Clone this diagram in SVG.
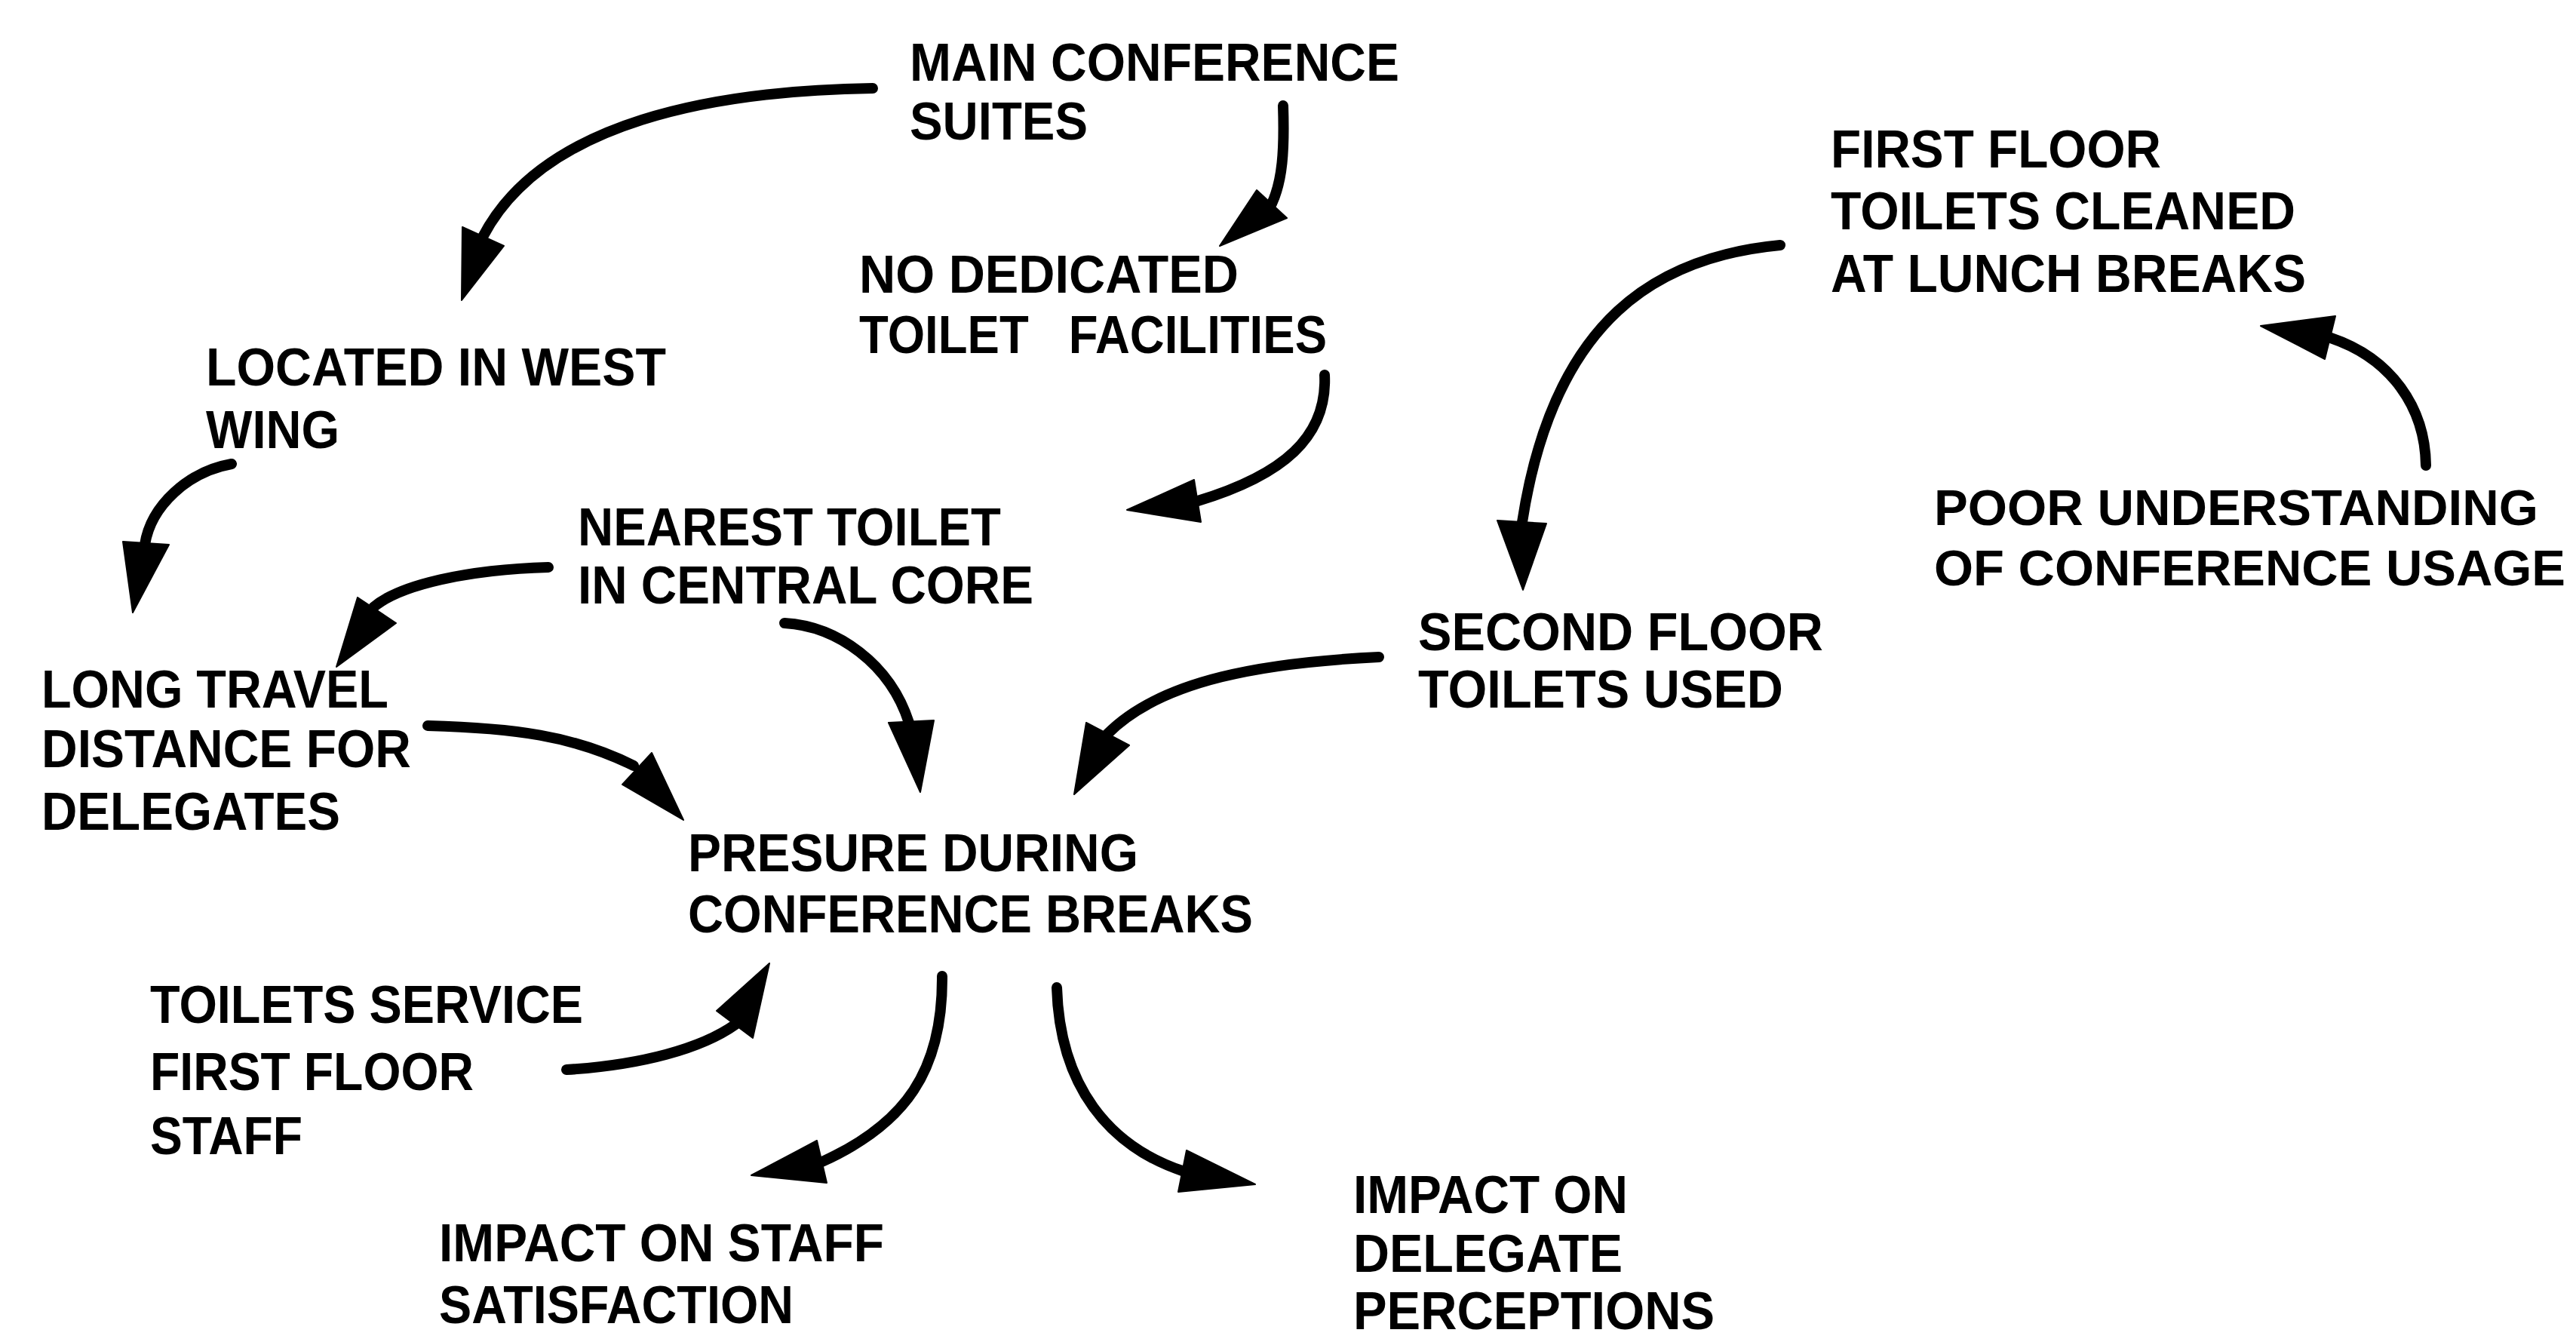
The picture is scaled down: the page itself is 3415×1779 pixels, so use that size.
<svg xmlns="http://www.w3.org/2000/svg" width="3415" height="1779" viewBox="0 0 3415 1779">
  <style>
    .lbl { font-family: "Liberation Sans", Arial, sans-serif; font-weight: bold; font-size: 70px; fill: #000; }
    .lbl.tight { font-size: 67px; }
    .link { fill: none; stroke: #000; stroke-width: 14; stroke-linecap: round; }
    .head { fill: #000; stroke: #000; stroke-width: 2; stroke-linejoin: round; }
  </style>
  <rect width="3415" height="1779" fill="#fff"/>

  <!-- connectors: curved strokes with drawn triangular heads -->
  <g id="connectors">
    <!-- main conference suites -> located in west wing -->
    <path class="link" d="M1157,117 C950,120 720,160 640,314"/>
    <polygon class="head" points="613,301 668,326 612,398"/>
    <!-- main conference suites -> no dedicated toilet facilities -->
    <path class="link" d="M1701,140 C1703,200 1700,240 1686,270"/>
    <polygon class="head" points="1666,252 1706,289 1617,326"/>
    <!-- no dedicated toilet facilities -> nearest toilet -->
    <path class="link" d="M1756,497 C1760,580 1700,630 1588,664"/>
    <polygon class="head" points="1583,636 1592,692 1494,676"/>
    <!-- located in west wing -> long travel distance -->
    <path class="link" d="M307,615 C250,625 200,670 192,722"/>
    <polygon class="head" points="163,718 224,722 176,812"/>
    <!-- nearest toilet -> long travel distance -->
    <path class="link" d="M727,752 C620,755 530,775 495,805"/>
    <polygon class="head" points="474,792 525,826 446,884"/>
    <!-- nearest toilet -> pressure during breaks -->
    <path class="link" d="M1040,826 C1110,830 1180,880 1205,958"/>
    <polygon class="head" points="1178,958 1238,955 1220,1050"/>
    <!-- long travel distance -> pressure during breaks -->
    <path class="link" d="M567,962 C680,965 760,975 840,1015"/>
    <polygon class="head" points="864,998 825,1040 906,1087"/>
    <!-- second floor toilets used -> pressure during breaks -->
    <path class="link" d="M1828,871 C1680,878 1540,900 1468,973"/>
    <polygon class="head" points="1440,958 1497,988 1424,1053"/>
    <!-- first floor toilets cleaned -> second floor toilets used -->
    <path class="link" d="M2360,325 C2200,340 2060,420 2018,692"/>
    <polygon class="head" points="1985,690 2050,694 2019,782"/>
    <!-- poor understanding -> first floor toilets cleaned -->
    <path class="link" d="M3216,617 C3215,540 3170,475 3090,448"/>
    <polygon class="head" points="3096,419 3082,476 2997,432"/>
    <!-- toilets service first floor staff -> pressure during breaks -->
    <path class="link" d="M751,1418 C850,1412 930,1390 975,1358"/>
    <polygon class="head" points="950,1340 998,1376 1020,1277"/>
    <!-- pressure during breaks -> impact on staff satisfaction -->
    <path class="link" d="M1249,1294 C1250,1420 1200,1490 1090,1540"/>
    <polygon class="head" points="1083,1512 1096,1568 996,1558"/>
    <!-- pressure during breaks -> impact on delegate perceptions -->
    <path class="link" d="M1401,1309 C1405,1440 1470,1520 1570,1553"/>
    <polygon class="head" points="1573,1525 1562,1580 1664,1570"/>
  </g>

  <g id="main-conference-suites">
    <text class="lbl" x="1206" y="107" textLength="649" lengthAdjust="spacingAndGlyphs">MAIN CONFERENCE</text>
    <text class="lbl" x="1206" y="185" textLength="236" lengthAdjust="spacingAndGlyphs">SUITES</text>
  </g>
  <g id="no-dedicated-toilets">
    <text class="lbl" x="1139" y="388" textLength="503" lengthAdjust="spacingAndGlyphs">NO DEDICATED</text>
    <text class="lbl" x="1139" y="468" textLength="620" lengthAdjust="spacingAndGlyphs" xml:space="preserve">TOILET   FACILITIES</text>
  </g>
  <g id="located-west-wing">
    <text class="lbl" x="273" y="511" textLength="610" lengthAdjust="spacingAndGlyphs">LOCATED IN WEST</text>
    <text class="lbl" x="273" y="594" textLength="177" lengthAdjust="spacingAndGlyphs">WING</text>
  </g>
  <g id="nearest-toilet">
    <text class="lbl" x="766" y="723" textLength="561" lengthAdjust="spacingAndGlyphs">NEAREST TOILET</text>
    <text class="lbl" x="766" y="800" textLength="604" lengthAdjust="spacingAndGlyphs">IN CENTRAL CORE</text>
  </g>
  <g id="long-travel-distance">
    <text class="lbl" x="55" y="938" textLength="460" lengthAdjust="spacingAndGlyphs">LONG TRAVEL</text>
    <text class="lbl" x="55" y="1017" textLength="490" lengthAdjust="spacingAndGlyphs">DISTANCE FOR</text>
    <text class="lbl" x="55" y="1100" textLength="396" lengthAdjust="spacingAndGlyphs">DELEGATES</text>
  </g>
  <g id="pressure-during-breaks">
    <text class="lbl" x="912" y="1155" textLength="597" lengthAdjust="spacingAndGlyphs">PRESURE DURING</text>
    <text class="lbl" x="912" y="1236" textLength="749" lengthAdjust="spacingAndGlyphs">CONFERENCE BREAKS</text>
  </g>
  <g id="toilets-service-staff">
    <text class="lbl" x="199" y="1356" textLength="574" lengthAdjust="spacingAndGlyphs">TOILETS SERVICE</text>
    <text class="lbl" x="199" y="1445" textLength="429" lengthAdjust="spacingAndGlyphs">FIRST FLOOR</text>
    <text class="lbl" x="199" y="1530" textLength="202" lengthAdjust="spacingAndGlyphs">STAFF</text>
  </g>
  <g id="impact-staff-satisfaction">
    <text class="lbl" x="582" y="1672" textLength="590" lengthAdjust="spacingAndGlyphs">IMPACT ON STAFF</text>
    <text class="lbl" x="582" y="1754" textLength="470" lengthAdjust="spacingAndGlyphs">SATISFACTION</text>
  </g>
  <g id="impact-delegate-perceptions">
    <text class="lbl" x="1794" y="1608" textLength="364" lengthAdjust="spacingAndGlyphs">IMPACT ON</text>
    <text class="lbl" x="1794" y="1686" textLength="357" lengthAdjust="spacingAndGlyphs">DELEGATE</text>
    <text class="lbl" x="1794" y="1762" textLength="479" lengthAdjust="spacingAndGlyphs">PERCEPTIONS</text>
  </g>
  <g id="first-floor-cleaned">
    <text class="lbl" x="2427" y="222" textLength="438" lengthAdjust="spacingAndGlyphs">FIRST FLOOR</text>
    <text class="lbl" x="2427" y="304" textLength="616" lengthAdjust="spacingAndGlyphs">TOILETS CLEANED</text>
    <text class="lbl" x="2427" y="387" textLength="630" lengthAdjust="spacingAndGlyphs">AT LUNCH BREAKS</text>
  </g>
  <g id="second-floor-used">
    <text class="lbl" x="1880" y="862" textLength="537" lengthAdjust="spacingAndGlyphs">SECOND FLOOR</text>
    <text class="lbl" x="1880" y="938" textLength="484" lengthAdjust="spacingAndGlyphs">TOILETS USED</text>
  </g>
  <g id="poor-understanding">
    <text class="lbl tight" x="2564" y="696" textLength="801" lengthAdjust="spacingAndGlyphs">POOR UNDERSTANDING</text>
    <text class="lbl tight" x="2564" y="776" textLength="837" lengthAdjust="spacingAndGlyphs">OF CONFERENCE USAGE</text>
  </g>
</svg>
